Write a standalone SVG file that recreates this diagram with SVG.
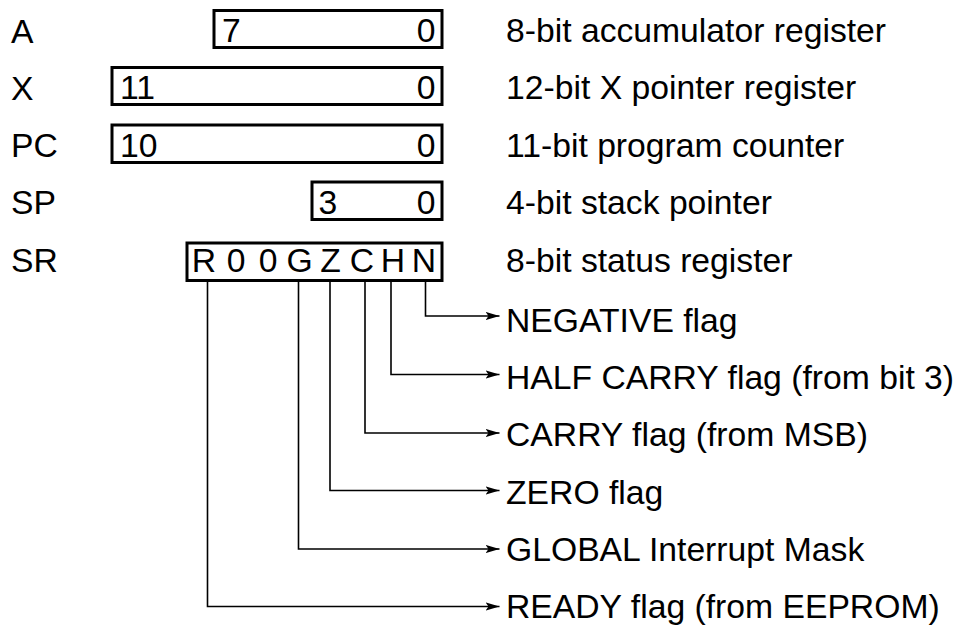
<svg xmlns="http://www.w3.org/2000/svg" width="959" height="625" viewBox="0 0 959 625">
<defs>
<style>
text{font-family:"Liberation Sans",Arial,Helvetica,sans-serif;font-size:33.7px;fill:#000}
.box{fill:#fff;stroke:#000;stroke-width:3}
.end{text-anchor:end}
.mid{text-anchor:middle}
.conn{fill:none;stroke:#000;stroke-width:1.6}
</style>
<marker id="arr" markerUnits="userSpaceOnUse" markerWidth="15" markerHeight="10" refX="14" refY="5" orient="auto">
<path d="M0,0.8 L14,5 L0,9.2 L3,5 Z" fill="#000"/>
</marker>
</defs>
<rect width="959" height="625" fill="#fff"/>
<g id="reg-A">
<text x="11" y="42.5">A</text>
<rect class="box" x="214" y="10.5" width="228" height="37"/>
<text x="222" y="41.5">7</text>
<text class="end" x="435.5" y="41.5">0</text>
<text x="506" y="41.5">8-bit accumulator register</text>
</g>
<g id="reg-X">
<text x="11" y="99.5">X</text>
<rect class="box" x="112" y="67.5" width="330" height="37"/>
<text x="120" y="99">11</text>
<text class="end" x="435.5" y="99">0</text>
<text x="506" y="99">12-bit X pointer register</text>
</g>
<g id="reg-PC">
<text x="11" y="156.5">PC</text>
<rect class="box" x="112" y="125" width="330" height="37.5"/>
<text x="120" y="156.5">10</text>
<text class="end" x="435.5" y="156.5">0</text>
<text x="506" y="156.5">11-bit program counter</text>
</g>
<g id="reg-SP">
<text x="11" y="213.5">SP</text>
<rect class="box" x="312" y="182" width="130" height="37.5"/>
<text x="318.5" y="213.5">3</text>
<text class="end" x="435.5" y="213.5">0</text>
<text x="506" y="213.5">4-bit stack pointer</text>
</g>
<g id="reg-SR">
<text x="11" y="271.5">SR</text>
<rect class="box" x="187" y="243" width="255" height="37.5"/>
<text class="mid" x="204" y="271.5">R</text>
<text class="mid" x="236" y="271.5">0</text>
<text class="mid" x="268" y="271.5">0</text>
<text class="mid" x="299.5" y="271.5">G</text>
<text class="mid" x="330.5" y="271.5">Z</text>
<text class="mid" x="362" y="271.5">C</text>
<text class="mid" x="393" y="271.5">H</text>
<text class="mid" x="424" y="271.5">N</text>
<text x="506" y="271.5">8-bit status register</text>
</g>
<g id="connectors">
<path class="conn" d="M425.5,282 V316 H499.5" marker-end="url(#arr)"/>
<path class="conn" d="M391,282 V374.5 H499.5" marker-end="url(#arr)"/>
<path class="conn" d="M365,282 V433 H499.5" marker-end="url(#arr)"/>
<path class="conn" d="M330,282 V490.5 H499.5" marker-end="url(#arr)"/>
<path class="conn" d="M298.5,282 V549 H499.5" marker-end="url(#arr)"/>
<path class="conn" d="M207.5,282 V606.5 H499.5" marker-end="url(#arr)"/>
</g>
<g id="flags">
<text x="506" y="331.5">NEGATIVE flag</text>
<text x="506" y="389">HALF CARRY flag (from bit 3)</text>
<text x="506" y="446">CARRY flag (from MSB)</text>
<text x="506" y="503.5">ZERO flag</text>
<text x="506" y="561">GLOBAL Interrupt Mask</text>
<text x="506" y="618">READY flag (from EEPROM)</text>
</g>
</svg>
